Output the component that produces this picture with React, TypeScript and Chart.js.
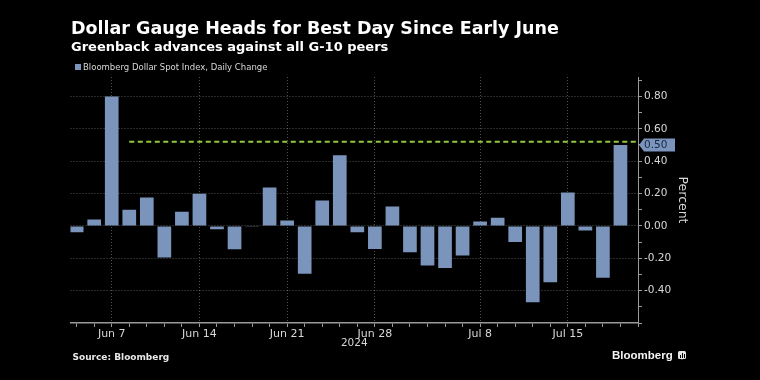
import React, { useEffect, useRef } from 'react';
import { Chart, registerables } from 'chart.js';

Chart.register(...registerables);

// ---- data ----
const dates = [
  'Jun 5', 'Jun 6', 'Jun 7', 'Jun 10', 'Jun 11', 'Jun 12', 'Jun 13', 'Jun 14',
  'Jun 17', 'Jun 18', 'Jun 19', 'Jun 20', 'Jun 21', 'Jun 24', 'Jun 25', 'Jun 26',
  'Jun 27', 'Jun 28', 'Jul 1', 'Jul 2', 'Jul 3', 'Jul 4', 'Jul 5', 'Jul 8',
  'Jul 9', 'Jul 10', 'Jul 11', 'Jul 12', 'Jul 15', 'Jul 16', 'Jul 17', 'Jul 18',
];
const dailyChange = [
  -0.04, 0.04, 0.8, 0.1, 0.175, -0.195, 0.087, 0.198,
  -0.02, -0.145, -0.005, 0.237, 0.033, -0.295, 0.157, 0.437,
  -0.04, -0.142, 0.12, -0.163, -0.245, -0.26, -0.183, 0.027,
  0.05, -0.099, -0.472, -0.348, 0.206, -0.029, -0.32, 0.5,
];
const xTickLabels = ['Jun 7', 'Jun 14', 'Jun 21', 'Jun 28', 'Jul 8', 'Jul 15'];
const yTickValues = [-0.6, -0.5, -0.4, -0.3, -0.2, -0.1, 0, 0.1, 0.2, 0.3, 0.4, 0.5, 0.6, 0.7, 0.8, 0.9];
const yLabelled = [-0.4, -0.2, 0, 0.2, 0.4, 0.6, 0.8];
const yMin = -0.6;
const yMax = 0.92;
const thresholdLevel = 0.52;
const thresholdStart = 'Jun 10';
const seriesName = 'Bloomberg Dollar Spot Index, Daily Change';
const yearLabel = '2024';

// ---- styles ----
const BAR = '#7a94bc';
const GRID = 'rgba(255,255,255,0.32)';
const AXIS = '#9a9a9a';
const TEXT = '#d8d8d8';
const FONT = "'DejaVu Sans', sans-serif";

const isLabelledY = (v: number) => yLabelled.some((l) => Math.abs(l - v) < 1e-6);
const xLabelFor = (v: number) => {
  const i = Math.round(v);
  if (Math.abs(v - i) > 1e-6) return '';
  const d = dates[i];
  return d && xTickLabels.includes(d) ? d : '';
};

const lastValueTag = {
  id: 'lastValueTag',
  afterDraw(chart: any) {
    const y = chart.scales.y;
    const ctx = chart.ctx;
    const v = dailyChange[dailyChange.length - 1];
    const py = y.getPixelForValue(v);
    const x0 = y.left + 1;
    const h = 13;
    ctx.save();
    ctx.fillStyle = BAR;
    ctx.beginPath();
    ctx.moveTo(x0, py);
    ctx.lineTo(x0 + 5, py - h / 2);
    ctx.lineTo(x0 + 36, py - h / 2);
    ctx.lineTo(x0 + 36, py + h / 2);
    ctx.lineTo(x0 + 5, py + h / 2);
    ctx.closePath();
    ctx.fill();
    ctx.fillStyle = '#1b2740';
    ctx.font = `10.5px ${FONT}`;
    ctx.textAlign = 'left';
    ctx.textBaseline = 'middle';
    ctx.fillText(v.toFixed(2), x0 + 5, py + 0.5);
    ctx.restore();
  },
};

export default function App() {
  const ref = useRef<HTMLCanvasElement>(null);

  useEffect(() => {
    const startIdx = dates.indexOf(thresholdStart);
    const chart = new Chart(ref.current as HTMLCanvasElement, {
      type: 'bar',
      data: {
        datasets: [
          {
            type: 'line',
            label: 'threshold',
            data: [
              { x: startIdx, y: thresholdLevel },
              { x: dates.length, y: thresholdLevel },
            ],
            borderColor: '#93c83e',
            borderWidth: 2,
            borderDash: [5, 3.5],
            pointRadius: 0,
            fill: false,
            order: 0,
          } as any,
          {
            type: 'bar',
            label: seriesName,
            data: dailyChange.map((v, i) => ({ x: i, y: v })),
            backgroundColor: BAR,
            borderWidth: 0,
            barPercentage: 0.78,
            categoryPercentage: 1,
            order: 1,
          } as any,
        ],
      },
      plugins: [lastValueTag],
      options: {
        responsive: false,
        animation: false,
        events: [],
        layout: { padding: { left: 70.5, top: 77, right: 70, bottom: 0 } },
        plugins: {
          legend: { display: false },
          tooltip: { enabled: false },
          title: { display: false },
        },
        scales: {
          x: {
            type: 'linear',
            min: -0.35,
            max: 32,
            offset: false,
            afterBuildTicks: (s: any) => {
              const t = [];
              for (let i = 0; i <= dates.length; i++) t.push({ value: i });
              s.ticks = t;
            },
            afterFit: (s: any) => {
              s.height = 57;
            },
            ticks: {
              autoSkip: false,
              maxRotation: 0,
              padding: 1,
              color: TEXT,
              font: { family: FONT, size: 11 },
              callback: (v: any) => xLabelFor(Number(v)),
            },
            grid: {
              offset: false,
              drawOnChartArea: true,
              color: (c: any) => (c.tick && xLabelFor(c.tick.value) ? GRID : 'rgba(0,0,0,0)'),
              tickColor: AXIS,
              tickLength: 4,
              lineWidth: 1,
            },
            border: { display: true, color: AXIS, width: 1.5, dash: [1, 2] },
            title: {
              display: true,
              text: yearLabel,
              color: TEXT,
              font: { family: FONT, size: 10.5 },
              padding: { top: 0, bottom: 30.7 },
            },
          },
          y: {
            type: 'linear',
            position: 'right',
            min: yMin,
            max: yMax,
            afterBuildTicks: (s: any) => {
              s.ticks = yTickValues.map((v) => ({ value: v }));
            },
            afterFit: (s: any) => {
              s.width = 52;
            },
            ticks: {
              autoSkip: false,
              padding: 2,
              color: TEXT,
              font: { family: FONT, size: 10.5 },
              callback: (v: any) => (isLabelledY(Number(v)) ? Number(v).toFixed(2) : ''),
            },
            grid: {
              color: (c: any) =>
                c.tick && isLabelledY(c.tick.value) && c.tick.value > yMin + 1e-6 ? GRID : 'rgba(0,0,0,0)',
              tickColor: AXIS,
              tickLength: 4,
              lineWidth: 1,
            },
            border: { display: true, color: AXIS, width: 1, dash: [1, 2] },
            title: {
              display: true,
              text: 'Percent',
              color: TEXT,
              font: { family: FONT, size: 12.5 },
              padding: { top: 0, bottom: 0 },
            },
          },
        },
      } as any,
    });
    return () => chart.destroy();
  }, []);

  return (
    <div
      style={{
        position: 'absolute',
        left: 0,
        top: 0,
        width: 760,
        height: 380,
        background: '#000',
        overflow: 'hidden',
        fontFamily: FONT,
      }}
    >
      <canvas
        ref={ref}
        width={760}
        height={380}
        style={{ position: 'absolute', left: 0, top: 0, width: 760, height: 380 }}
      />
      <div
        style={{
          position: 'absolute',
          left: 71,
          top: 19.5,
          fontSize: 17.5,
          lineHeight: '17.5px',
          fontWeight: 700,
          color: '#fff',
          whiteSpace: 'nowrap',
        }}
      >
        Dollar Gauge Heads for Best Day Since Early June
      </div>
      <div
        style={{
          position: 'absolute',
          left: 71,
          top: 40,
          fontSize: 13,
          lineHeight: '13px',
          fontWeight: 700,
          color: '#fff',
          whiteSpace: 'nowrap',
        }}
      >
        Greenback advances against all G-10 peers
      </div>
      <div
        style={{ position: 'absolute', left: 75, top: 63.5, width: 6, height: 6, background: BAR }}
      />
      <div
        style={{
          position: 'absolute',
          left: 83,
          top: 62.8,
          fontSize: 8.5,
          lineHeight: '8.5px',
          color: TEXT,
          whiteSpace: 'nowrap',
        }}
      >
        {seriesName}
      </div>
      <div
        style={{
          position: 'absolute',
          left: 72.5,
          top: 353,
          fontSize: 9,
          lineHeight: '9px',
          fontWeight: 700,
          color: '#e8e8e8',
          whiteSpace: 'nowrap',
        }}
      >
        Source: Bloomberg
      </div>
      <div
        style={{
          position: 'absolute',
          left: 612,
          top: 349.6,
          fontSize: 11.5,
          lineHeight: '11.5px',
          fontWeight: 700,
          fontFamily: "'Liberation Sans', Arial, sans-serif",
          color: '#f2f2f2',
          whiteSpace: 'nowrap',
        }}
      >
        Bloomberg
      </div>
      <div
        style={{
          position: 'absolute',
          left: 678,
          top: 351,
          width: 8,
          height: 8,
          background: '#e6e6e6',
          borderRadius: 1.5,
        }}
      >
        <div style={{ position: 'absolute', left: 1.5, top: 4, width: 1, height: 3, background: '#000' }} />
        <div style={{ position: 'absolute', left: 3.5, top: 2, width: 1, height: 5, background: '#000' }} />
        <div style={{ position: 'absolute', left: 5.5, top: 3, width: 1, height: 4, background: '#000' }} />
      </div>
      <div
        style={{
          position: 'absolute',
          left: 681,
          top: 358,
          width: 0,
          height: 0,
          borderLeft: '1.5px solid transparent',
          borderRight: '1.5px solid transparent',
          borderTop: '2.5px solid #e6e6e6',
        }}
      />
    </div>
  );
}
